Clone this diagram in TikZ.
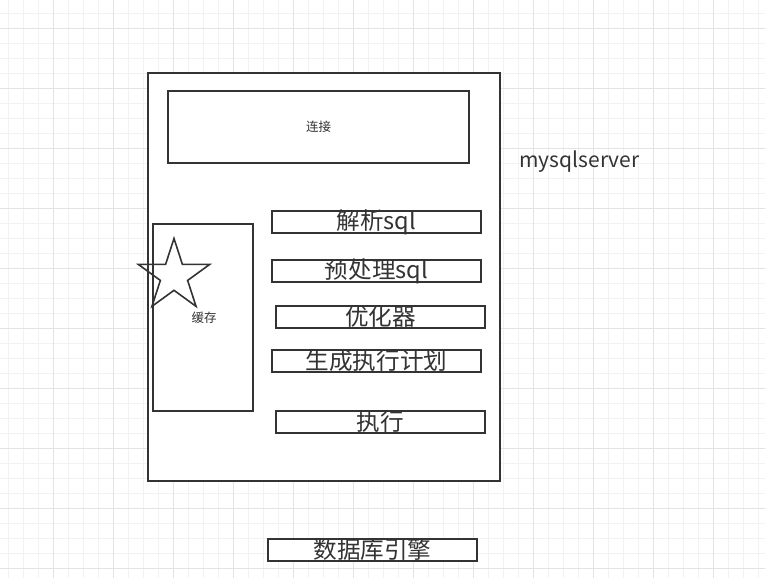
\documentclass[tikz,border=0pt]{standalone}
\usepackage{fontspec}
\setmainfont{Noto Sans CJK SC}
\usetikzlibrary{shapes.geometric}
\definecolor{trait}{HTML}{333333}
\definecolor{grillefine}{HTML}{F2F2F2}
\definecolor{grille}{HTML}{E3E3E3}
\tikzset{
	cadre/.style={draw=trait,line width=1.6pt,fill=white,inner sep=0pt},
	etape/.style={draw=trait,line width=1.6pt,inner sep=0pt,minimum width=209pt,minimum height=22pt},
	grand/.style={text=trait,inner sep=0pt,font=\fontsize{23.6}{27}\selectfont},
	petit/.style={text=trait,inner sep=0pt,font=\fontsize{12.5}{14}\selectfont}
}
\begin{document}
\begin{tikzpicture}[x=1pt,y=-1pt]
		\useasboundingbox (0,0) rectangle (765,578);
		% Grille
		\foreach \gx in {8,23,...,765} \draw[grillefine,line width=0.8pt] (\gx,0) -- (\gx,578);
		\foreach \gy in {13,28,...,578} \draw[grillefine,line width=0.8pt] (0,\gy) -- (765,\gy);
		\foreach \gx in {53,113,...,765} \draw[grille,line width=0.8pt] (\gx,0) -- (\gx,578);
		\foreach \gy in {28,88,...,578} \draw[grille,line width=0.8pt] (0,\gy) -- (765,\gy);
		% Serveur
		\node[cadre,minimum width=352pt,minimum height=408pt] (serveur) at (324,277) {};
		\node[text=trait,inner sep=0pt,font=\fontsize{21}{25}\selectfont] (nomserveur) at (579.5,162) {mysqlserver};
		% Connexion
		\node[cadre,minimum width=301pt,minimum height=72pt] (connexion) at (318.5,127) {};
		\node[petit] (txtconnexion) at (connexion) {连接};
		% Cache
		\node[cadre,fill=none,minimum width=100pt,minimum height=187pt] (cache) at (203,317.5) {};
		\node[petit] (txtcache) at (204,318) {缓存};
		\node[star,star points=5,star point ratio=2.618,draw=trait,line width=1.6pt,minimum size=75pt,inner sep=0pt] (etoile) at (174,276) {};
		% Etapes
		\node[etape] (analyse) at (376.5,222) {};
		\node[grand] (txtanalyse) at (analyse) {解析sql};
		\node[etape] (pretraitement) at (376.5,271) {};
		\node[grand] (txtpretraitement) at (pretraitement) {预处理sql};
		\node[etape] (optimiseur) at (380.5,317) {};
		\node[grand] (txtoptimiseur) at (optimiseur) {优化器};
		\node[etape] (plan) at (376.5,361) {};
		\node[grand] (txtplan) at (plan) {生成执行计划};
		\node[etape] (execution) at (380.5,422) {};
		\node[grand] (txtexecution) at (execution) {执行};
		% Moteur
		\node[etape,fill=white] (moteur) at (372.5,550) {};
		\node[grand] (txtmoteur) at (moteur) {数据库引擎};
\end{tikzpicture}
\end{document}
